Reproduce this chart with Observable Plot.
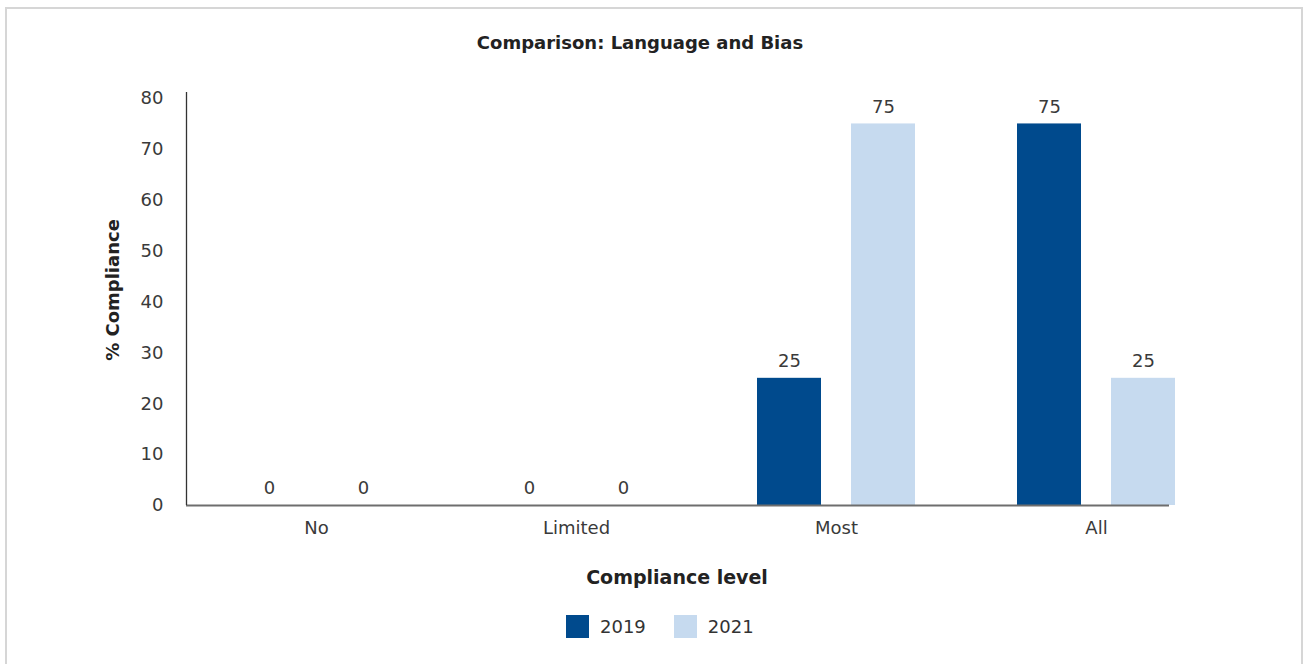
<!DOCTYPE html>
<html>
<head>
<meta charset="utf-8">
<script src="https://cdn.jsdelivr.net/npm/d3@7"></script>
<script src="https://cdn.jsdelivr.net/npm/@observablehq/plot@0.6"></script>
<style>
  html, body { margin: 0; padding: 0; background: #fff; }
  body { width: 1307px; height: 664px; position: relative; overflow: hidden; font-family: "DejaVu Sans", sans-serif; color: #333; }
  #border { position: absolute; left: 5px; top: 7px; width: 1298px; height: 670px; border: 2px solid #d6d6d6; box-sizing: border-box; }
  #title { position: absolute; left: 0; width: 1280px; top: 32px; text-align: center; font-weight: bold; font-size: 18px; color: #222; }
  #chart { position: absolute; left: 0; top: 70px; }
  #ylabel { position: absolute; left: 112px; top: 290px; transform: translate(-50%, -50%) rotate(-90deg); font-weight: bold; font-size: 18px; white-space: nowrap; color: #222; }
  #xlabel { position: absolute; left: 677px; top: 577px; transform: translate(-50%, -50%); font-weight: bold; font-size: 19px; white-space: nowrap; color: #222; }
  #legend { position: absolute; top: 615px; left: 566px; display: flex; align-items: center; font-size: 18px; color: #333; }
  .sw { width: 23px; height: 23px; display: inline-block; margin-right: 11px; }
  .item { display: flex; align-items: center; margin-right: 28px; }
</style>
</head>
<body>
<div id="border"></div>
<div id="title">Comparison: Language and Bias</div>
<div id="chart"></div>
<div id="ylabel">% Compliance</div>
<div id="xlabel">Compliance level</div>
<div id="legend"></div>
<script>
const categories = ["No", "Limited", "Most", "All"];
const years = ["2019", "2021"];
const values2019 = [0, 0, 25, 75];
const values2021 = [0, 0, 75, 25];
const colors = ["#004A8D", "#C6DAEF"];
const yTicks = [0, 10, 20, 30, 40, 50, 60, 70, 80];

const data = [];
categories.forEach((c, i) => {
  data.push({cat: c, year: years[0], value: values2019[i]});
  data.push({cat: c, year: years[1], value: values2021[i]});
});
const d19 = data.filter(d => d.year === years[0]);
const d21 = data.filter(d => d.year === years[1]);

const chart = Plot.plot({
  width: 1307,
  height: 530,
  marginLeft: 186,
  marginRight: 81,
  marginTop: 28,
  marginBottom: 95,
  style: {fontFamily: "DejaVu Sans, sans-serif", fontSize: "18px", color: "#3a3a3a", background: "transparent"},
  x: {domain: categories, padding: 0, label: null},
  y: {domain: [0, 80], label: null},
  marks: [
    Plot.barY(d19, {x: "cat", y: "value", fill: colors[0], insetLeft: 51, insetRight: 145}),
    Plot.barY(d21, {x: "cat", y: "value", fill: colors[1], insetLeft: 145, insetRight: 51}),
    Plot.text(d19, {x: "cat", y: "value", text: d => String(d.value), dx: -47, dy: -17, fontSize: 18, fill: "#3a3a3a"}),
    Plot.text(d21, {x: "cat", y: "value", text: d => String(d.value), dx: 47, dy: -17, fontSize: 18, fill: "#3a3a3a"}),
    Plot.ruleY([0], {stroke: "#6e6e6e", strokeWidth: 2, insetRight: 57}),
    Plot.ruleX([0], {x: () => categories[0], stroke: "#333", strokeWidth: 1.3, dx: -130, insetTop: -6}),
    Plot.axisY({ticks: yTicks, tickSize: 0, tickPadding: 23, fontSize: 18, label: null}),
    Plot.axisX({tickSize: 0, tickPadding: 16, fontSize: 18, label: null})
  ]
});
document.getElementById("chart").appendChild(chart);

const legend = document.getElementById("legend");
years.forEach((y, i) => {
  const item = document.createElement("div");
  item.className = "item";
  const sw = document.createElement("span");
  sw.className = "sw";
  sw.style.background = colors[i];
  const t = document.createElement("span");
  t.textContent = y;
  item.appendChild(sw);
  item.appendChild(t);
  legend.appendChild(item);
});
</script>
</body>
</html>
